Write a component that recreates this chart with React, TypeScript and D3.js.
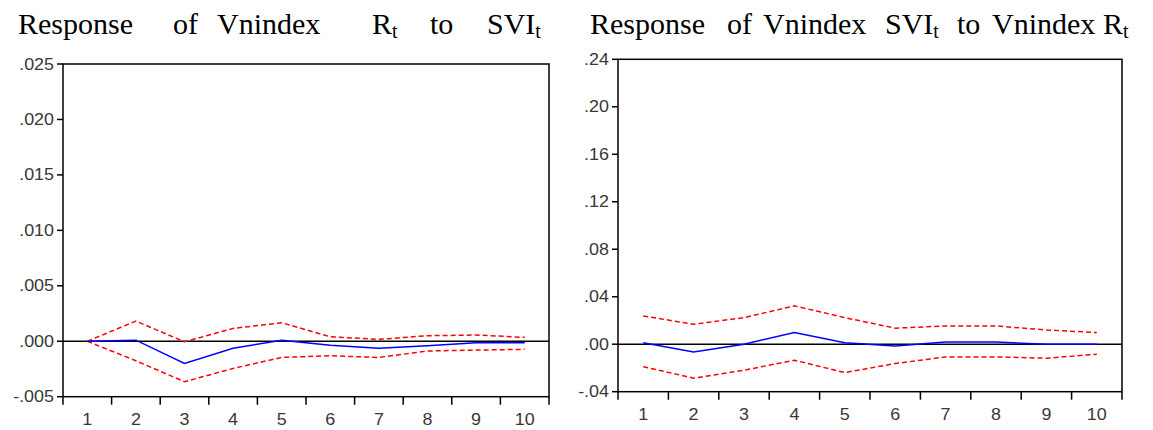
import React from "react";
import * as d3 from "d3";

const periods = ["1", "2", "3", "4", "5", "6", "7", "8", "9", "10"];

// Left panel: Response of Vnindex R_t to SVI_t
const leftResponse = [0.0, 0.0001, -0.002, -0.00064, 0.0001, -0.00037, -0.00062, -0.0004, -0.00013, -0.00013];
const leftUpper = [0.0, 0.00182, -0.00005, 0.00116, 0.00167, 0.0004, 0.00017, 0.0005, 0.00056, 0.00035];
const leftLower = [0.0, -0.00176, -0.00365, -0.00245, -0.00146, -0.00131, -0.00146, -0.00088, -0.0008, -0.00073];
const leftYTicks = [-0.005, 0.0, 0.005, 0.01, 0.015, 0.02, 0.025];

// Right panel: Response of Vnindex SVI_t to Vnindex R_t
const rightResponse = [0.0013, -0.0065, 0.0, 0.0098, 0.0013, -0.0014, 0.0018, 0.0018, 0.0, 0.0];
const rightUpper = [0.0238, 0.0168, 0.0224, 0.0323, 0.0224, 0.0135, 0.0154, 0.0154, 0.012, 0.0098];
const rightLower = [-0.0189, -0.0286, -0.0219, -0.0135, -0.0239, -0.0163, -0.0107, -0.0107, -0.0118, -0.0084];
const rightYTicks = [-0.04, 0.0, 0.04, 0.08, 0.12, 0.16, 0.2, 0.24];

const locale = d3.formatLocale({
  decimal: ".",
  thousands: ",",
  grouping: [3],
  currency: ["", ""],
  minus: "-",
});

const fmt = (decimals: number) => (v: number) => {
  const s = locale.format(`.${decimals}f`)(v);
  return s.replace(/^(-?)0\./, "$1.");
};

type PanelProps = {
  left: number;
  right: number;
  top: number;
  bottom: number;
  yDomain: [number, number];
  yTicks: number[];
  decimals: number;
  response: number[];
  upper: number[];
  lower: number[];
  labelBaseline: number;
};

const tickFont = "'Liberation Sans', Arial, sans-serif";
const STRETCH = 1.12;

function TickText({ x, y, anchor, children }: { x: number; y: number; anchor: string; children: React.ReactNode }) {
  return (
    <text
      transform={`translate(${x},${y}) scale(${STRETCH},1)`}
      textAnchor={anchor}
      fontFamily={tickFont}
      fontSize={16}
      fill="#383838"
    >
      {children}
    </text>
  );
}

function Panel(p: PanelProps) {
  const x = d3.scaleBand<string>().domain(periods).range([p.left, p.right]).padding(0);
  const y = d3.scaleLinear().domain(p.yDomain).range([p.bottom, p.top]);
  const cx = (i: number) => (x(periods[i]) as number) + x.bandwidth() / 2;
  const line = d3
    .line<number>()
    .x((_, i) => cx(i))
    .y((d) => y(d));
  const f = fmt(p.decimals);
  const boundaries = [...periods.map((d) => x(d) as number), p.right];
  return (
    <g>
      <rect
        x={p.left}
        y={p.top}
        width={p.right - p.left}
        height={p.bottom - p.top}
        fill="none"
        stroke="#000"
        strokeWidth={1.5}
      />
      <line x1={p.left} x2={p.right} y1={y(0)} y2={y(0)} stroke="#000" strokeWidth={1.5} />
      {p.yTicks.map((t) => (
        <g key={t}>
          <line x1={p.left - 6} x2={p.left} y1={y(t)} y2={y(t)} stroke="#000" strokeWidth={1.5} />
          <TickText x={p.left - 9} y={y(t) + 5.5} anchor="end">
            {f(t)}
          </TickText>
        </g>
      ))}
      {boundaries.map((b, i) => (
        <line key={i} x1={b} x2={b} y1={p.bottom} y2={p.bottom + 8} stroke="#000" strokeWidth={1.5} />
      ))}
      {periods.map((d, i) => (
        <TickText key={d} x={cx(i)} y={p.labelBaseline} anchor="middle">
          {d}
        </TickText>
      ))}
      <path d={line(p.upper) || ""} fill="none" stroke="#ff0000" strokeWidth={1.5} strokeDasharray="5,3" />
      <path d={line(p.lower) || ""} fill="none" stroke="#ff0000" strokeWidth={1.5} strokeDasharray="5,3" />
      <path d={line(p.response) || ""} fill="none" stroke="#0000ff" strokeWidth={1.5} />
    </g>
  );
}

type Word = { text: string; sub?: string; x: number };

const leftTitle: Word[] = [
  { text: "Response", x: 18 },
  { text: "of", x: 173 },
  { text: "Vnindex", x: 217 },
  { text: "R", sub: "t", x: 372 },
  { text: "to", x: 430 },
  { text: "SVI", sub: "t", x: 487 },
];
const rightTitle: Word[] = [
  { text: "Response", x: 590 },
  { text: "of", x: 727 },
  { text: "Vnindex", x: 763 },
  { text: "SVI", sub: "t", x: 885 },
  { text: "to", x: 957 },
  { text: "Vnindex", x: 992 },
  { text: "R", sub: "t", x: 1103 },
];

function Title({ words }: { words: Word[] }) {
  return (
    <g fontFamily="'Liberation Serif', 'Times New Roman', serif" fill="#000">
      {words.map((w, i) => (
        <text key={i} x={w.x} y={34} fontSize={30}>
          {w.text}
          {w.sub ? (
            <tspan fontSize={20} dy={4}>
              {w.sub}
            </tspan>
          ) : null}
        </text>
      ))}
    </g>
  );
}

export default function App() {
  return (
    <svg
      width={1153}
      height={430}
      style={{ position: "absolute", left: 0, top: 0, background: "#fff" }}
    >
      <rect width={1153} height={430} fill="#fff" />
      <Title words={leftTitle} />
      <Title words={rightTitle} />
      <Panel
        left={63}
        right={549}
        top={64}
        bottom={396.7}
        yDomain={[-0.005, 0.025]}
        yTicks={leftYTicks}
        decimals={3}
        response={leftResponse}
        upper={leftUpper}
        lower={leftLower}
        labelBaseline={425}
      />
      <Panel
        left={618}
        right={1122}
        top={59.3}
        bottom={391.7}
        yDomain={[-0.04, 0.24]}
        yTicks={rightYTicks}
        decimals={2}
        response={rightResponse}
        upper={rightUpper}
        lower={rightLower}
        labelBaseline={420}
      />
    </svg>
  );
}
